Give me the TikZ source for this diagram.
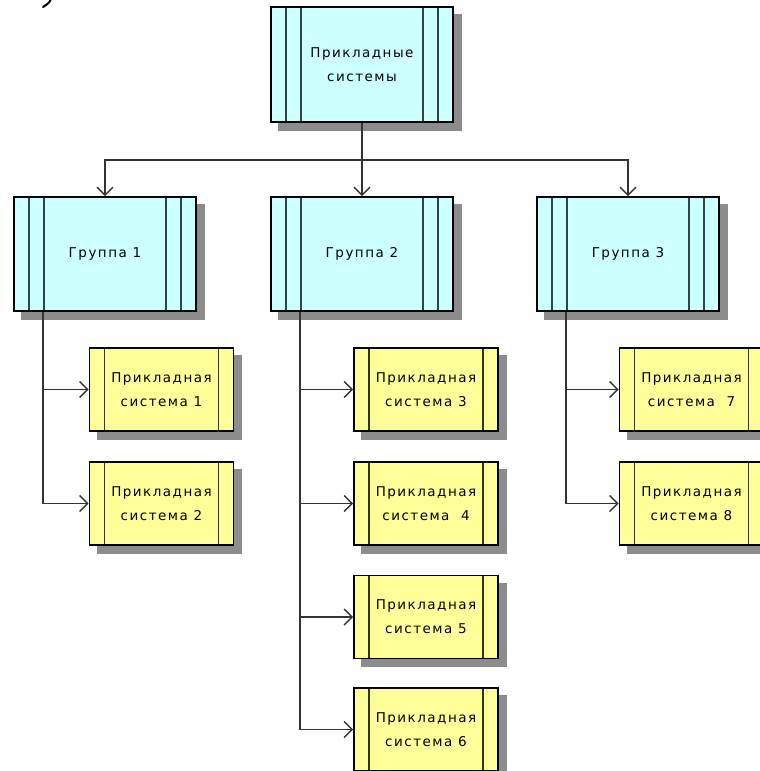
\documentclass[tikz,border=0pt]{standalone}
\usepackage{fontspec}
\setmainfont{DejaVu Sans}[LetterSpace=11]
\usetikzlibrary{arrows.meta,backgrounds}
\definecolor{cyanfill}{HTML}{CCFFFF}
\definecolor{yellowfill}{HTML}{FFFF99}
\definecolor{conn}{HTML}{333333}
\definecolor{innerc}{HTML}{2F4545}
\definecolor{inneryc}{HTML}{33331F}
\definecolor{shadowc}{HTML}{8C8C8C}
\tikzset{
  basebox/.style={draw=black, line width=1.6pt, inner sep=0pt, align=center,
    font=\fontsize{13.5}{24}\selectfont},
  cyanbox/.style={basebox, fill=cyanfill, minimum width=182pt, minimum height=114pt,
    path picture={
      \foreach \d in {15,30}{
        \draw[innerc,line width=1.5pt] ([xshift=\d pt]path picture bounding box.north west) -- ([xshift=\d pt]path picture bounding box.south west);
        \draw[innerc,line width=1.5pt] ([xshift=-\d pt]path picture bounding box.north east) -- ([xshift=-\d pt]path picture bounding box.south east);
      }}},
  yellowbox/.style={basebox, fill=yellowfill, minimum width=144pt, minimum height=83pt,
    path picture={
        \draw[inneryc,line width=1.5pt] ([xshift=15pt]path picture bounding box.north west) -- ([xshift=15pt]path picture bounding box.south west);
        \draw[inneryc,line width=1.5pt] ([xshift=-15pt]path picture bounding box.north east) -- ([xshift=-15pt]path picture bounding box.south east);
      }},
  link/.style={draw=conn, line width=1.7pt},
  linkarrow/.style={link, -{Straight Barb[length=8pt,width=16pt,line width=1.4pt]}},
}
\begin{document}
\begin{tikzpicture}[x=1pt,y=-1pt]
\useasboundingbox (0,0) rectangle (760,771);
% fragment of a stroke at the top-left corner
\draw[line width=2pt, line cap=round] (51,-1) .. controls (49,3) .. (43,7);

\node[cyanbox, minimum height=115pt] (top) at (362,64.5) {Прикладные\\системы};
\node[cyanbox] (g1) at (105,254) {Группа 1};
\node[cyanbox] (g2) at (362,254) {Группа 2};
\node[cyanbox] (g3) at (628,254) {Группа 3};

\node[yellowbox] (s1) at (161.5,389.5) {Прикладная\\система 1};
\node[yellowbox] (s2) at (161.5,503.5) {Прикладная\\система 2};
\node[yellowbox] (s3) at (426,389.5) {Прикладная\\система 3};
\node[yellowbox] (s4) at (426,503.5) {Прикладная\\система\ \ 4};
\node[yellowbox] (s5) at (426,617) {Прикладная\\система 5};
\node[yellowbox] (s6) at (426,729.5) {Прикладная\\система 6};
\node[yellowbox] (s7) at (691.5,389.5) {Прикладная\\система\ \ 7};
\node[yellowbox] (s8) at (691.5,503.5) {Прикладная\\система 8};

\begin{scope}[on background layer]
  \foreach \n in {top,g1,g2,g3,s1,s2,s3,s4,s5,s6,s7,s8}{
    \fill[shadowc] ([shift={(8pt,-8pt)}]\n.north west) rectangle ([shift={(8pt,-8pt)}]\n.south east);
  }
\end{scope}

\coordinate (hub) at (362,160);
\draw[link] (top.south) -- (hub);
\draw[linkarrow] (hub) -| (g1.north);
\draw[linkarrow] (hub) -- (g2.north);
\draw[linkarrow] (hub) -| (g3.north);

\coordinate (b1) at ([xshift=30pt]g1.south west);
\coordinate (b2) at ([xshift=30pt]g2.south west);
\coordinate (b3) at ([xshift=30pt]g3.south west);
\draw[linkarrow] (b1) |- (s1.west);
\draw[linkarrow] (b1) |- (s2.west);
\draw[linkarrow] (b2) |- (s3.west);
\draw[linkarrow] (b2) |- (s4.west);
\draw[linkarrow] (b2) |- (s5.west);
\draw[linkarrow] (b2) |- (s6.west);
\draw[linkarrow] (b3) |- (s7.west);
\draw[linkarrow] (b3) |- (s8.west);
\end{tikzpicture}
\end{document}
